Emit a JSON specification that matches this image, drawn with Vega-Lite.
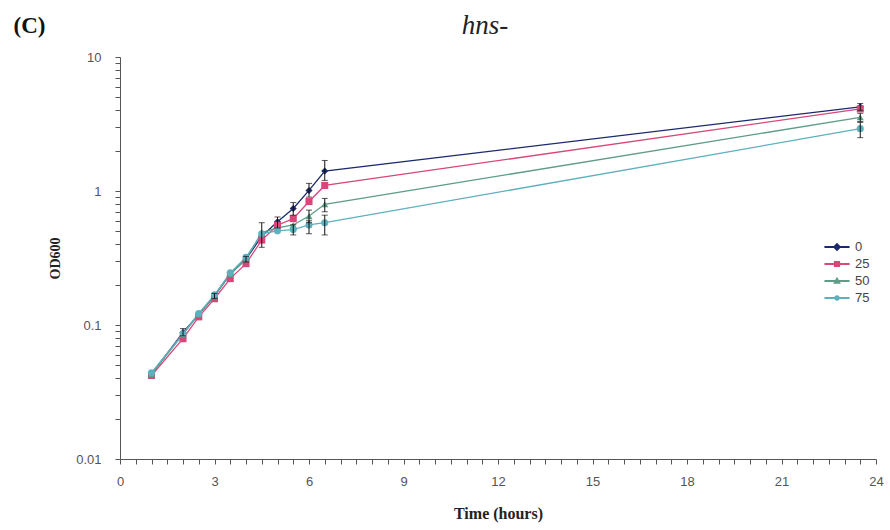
{
  "$schema": "https://vega.github.io/schema/vega-lite/v6.json",
  "width": 756,
  "height": 402,
  "autosize": {"type": "none"},
  "padding": {"left": 120, "top": 57, "right": 14, "bottom": 71},
  "background": "white",
  "config": {
    "view": {"stroke": null},
    "axis": {"grid": false, "domainColor": "#555", "tickColor": "#555", "labelColor": "#555", "labelFont": "Liberation Sans", "labelFontSize": 13, "titleFont": "Liberation Serif", "titleFontWeight": "bold", "titleColor": "#222"}
  },
  "title": {"text": "hns-", "font": "Liberation Serif", "fontStyle": "italic", "fontWeight": "normal", "fontSize": 27, "color": "#222", "anchor": "middle", "frame": "group", "dx": -13, "baseline": "alphabetic", "offset": 23, "dy": 70},
  "datasets": {
    "main": [
      {"series": "0", "time": 1, "od": 0.043}, {"series": "0", "time": 2, "od": 0.088}, {"series": "0", "time": 2.5, "od": 0.12}, {"series": "0", "time": 3, "od": 0.165}, {"series": "0", "time": 3.5, "od": 0.24}, {"series": "0", "time": 4, "od": 0.31}, {"series": "0", "time": 4.5, "od": 0.46}, {"series": "0", "time": 5, "od": 0.59}, {"series": "0", "time": 5.5, "od": 0.74}, {"series": "0", "time": 6, "od": 1.01}, {"series": "0", "time": 6.5, "od": 1.41}, {"series": "0", "time": 23.5, "od": 4.25},
      {"series": "25", "time": 1, "od": 0.042}, {"series": "25", "time": 2, "od": 0.079}, {"series": "25", "time": 2.5, "od": 0.115}, {"series": "25", "time": 3, "od": 0.157}, {"series": "25", "time": 3.5, "od": 0.222}, {"series": "25", "time": 4, "od": 0.287}, {"series": "25", "time": 4.5, "od": 0.43}, {"series": "25", "time": 5, "od": 0.555}, {"series": "25", "time": 5.5, "od": 0.622}, {"series": "25", "time": 6, "od": 0.834}, {"series": "25", "time": 6.5, "od": 1.1}, {"series": "25", "time": 23.5, "od": 4.1},
      {"series": "50", "time": 1, "od": 0.043}, {"series": "50", "time": 2, "od": 0.085}, {"series": "50", "time": 2.5, "od": 0.12}, {"series": "50", "time": 3, "od": 0.165}, {"series": "50", "time": 3.5, "od": 0.24}, {"series": "50", "time": 4, "od": 0.31}, {"series": "50", "time": 4.5, "od": 0.49}, {"series": "50", "time": 5, "od": 0.53}, {"series": "50", "time": 5.5, "od": 0.558}, {"series": "50", "time": 6, "od": 0.65}, {"series": "50", "time": 6.5, "od": 0.796}, {"series": "50", "time": 23.5, "od": 3.55},
      {"series": "75", "time": 1, "od": 0.044}, {"series": "75", "time": 2, "od": 0.086}, {"series": "75", "time": 2.5, "od": 0.122}, {"series": "75", "time": 3, "od": 0.168}, {"series": "75", "time": 3.5, "od": 0.245}, {"series": "75", "time": 4, "od": 0.32}, {"series": "75", "time": 4.5, "od": 0.48}, {"series": "75", "time": 5, "od": 0.504}, {"series": "75", "time": 5.5, "od": 0.515}, {"series": "75", "time": 6, "od": 0.558}, {"series": "75", "time": 6.5, "od": 0.58}, {"series": "75", "time": 23.5, "od": 2.92}
    ],
    "err": [
      {"series": "0", "time": 2, "lo": 0.083, "hi": 0.094},
      {"series": "0", "time": 3, "lo": 0.158, "hi": 0.172},
      {"series": "0", "time": 4, "lo": 0.295, "hi": 0.325},
      {"series": "50", "time": 4.5, "lo": 0.38, "hi": 0.58},
      {"series": "0", "time": 5, "lo": 0.53, "hi": 0.64},
      {"series": "0", "time": 5.5, "lo": 0.66, "hi": 0.82},
      {"series": "75", "time": 5.5, "lo": 0.47, "hi": 0.56},
      {"series": "0", "time": 6, "lo": 0.9, "hi": 1.14},
      {"series": "50", "time": 6, "lo": 0.58, "hi": 0.72},
      {"series": "75", "time": 6, "lo": 0.48, "hi": 0.6},
      {"series": "0", "time": 6.5, "lo": 1.2, "hi": 1.69},
      {"series": "50", "time": 6.5, "lo": 0.7, "hi": 0.88},
      {"series": "75", "time": 6.5, "lo": 0.47, "hi": 0.66},
      {"series": "0", "time": 23.5, "lo": 4.0, "hi": 4.5},
      {"series": "50", "time": 23.5, "lo": 3.3, "hi": 3.8},
      {"series": "75", "time": 23.5, "lo": 2.5, "hi": 3.25}
    ]
  },
  "layer": [
    {
      "data": {"name": "main"},
      "mark": {"type": "line", "strokeWidth": 1.3},
      "encoding": {
        "x": {"field": "time", "type": "quantitative", "scale": {"domain": [0, 24], "nice": false},
          "axis": {"orient": "bottom", "values": [0,0.5,1,1.5,2,2.5,3,3.5,4,4.5,5,5.5,6,6.5,7,7.5,8,8.5,9,9.5,10,10.5,11,11.5,12,12.5,13,13.5,14,14.5,15,15.5,16,16.5,17,17.5,18,18.5,19,19.5,20,20.5,21,21.5,22,22.5,23,23.5,24],
            "format": "~g", "labelExpr": "datum.value % 3 === 0 ? datum.label : ''", "labelOverlap": false, "labelFlush": false, "tickSize": 5, "labelPadding": 11, "title": "Time (hours)", "titleFontSize": 16, "titlePadding": 17}},
        "y": {"field": "od", "type": "quantitative", "scale": {"type": "log", "domain": [0.01, 10], "nice": false},
          "axis": {"values": [0.01,0.02,0.03,0.04,0.05,0.06,0.07,0.08,0.09,0.1,0.2,0.3,0.4,0.5,0.6,0.7,0.8,0.9,1,2,3,4,5,6,7,8,9,10],
            "format": "~g", "labelExpr": "abs(log(datum.value)/LN10 - round(log(datum.value)/LN10)) < 0.000001 ? datum.label : ''", "labelOverlap": false, "labelFlush": false, "tickSize": 5, "labelPadding": 14, "title": "OD600", "titleFontSize": 14, "titlePadding": 13}},
        "color": {"field": "series", "type": "nominal", "scale": {"domain": ["0","25","50","75"], "range": ["#1a2a6c","#d9477a","#5e9c86","#5fafbf"]}, "legend": null}
      }
    },
    {
      "data": {"name": "main"},
      "mark": {"type": "point", "filled": true, "opacity": 1, "size": 50},
      "encoding": {
        "x": {"field": "time", "type": "quantitative", "axis": null},
        "y": {"field": "od", "type": "quantitative", "axis": null},
        "color": {"field": "series", "type": "nominal", "scale": {"domain": ["0","25","50","75"], "range": ["#1a2a6c","#d9477a","#5e9c86","#5fafbf"]}, "legend": null},
        "shape": {"field": "series", "type": "nominal", "scale": {"domain": ["0","25","50","75"], "range": ["diamond","square","triangle-up","circle"]}, "legend": null}
      }
    },
    {
      "data": {"name": "err"},
      "mark": {"type": "errorbar", "color": "#111", "ticks": {"size": 6, "color": "#111"}, "rule": {"strokeWidth": 1}},
      "encoding": {
        "x": {"field": "time", "type": "quantitative", "axis": null},
        "y": {"field": "lo", "type": "quantitative", "axis": null},
        "y2": {"field": "hi"}
      }
    },
    {
      "data": {"name": "main"},
      "transform": [{"filter": "datum.od < 0"}],
      "mark": {"type": "point", "filled": false, "strokeWidth": 2, "opacity": 1},
      "encoding": {
        "x": {"field": "time", "type": "quantitative", "axis": {"orient": "top", "labels": false, "ticks": false, "domain": false, "title": "(C)", "titleFont": "Liberation Serif", "titleFontSize": 23, "titleFontWeight": "bold", "titleColor": "#111", "titleAngle": 0, "titleAlign": "left", "titleBaseline": "alphabetic", "titleX": -107, "titleY": -25}},
        "color": {"field": "series", "type": "nominal", "scale": {"domain": ["0","25","50","75"], "range": ["#1a2a6c","#d9477a","#5e9c86","#5fafbf"]},
          "legend": {"orient": "none", "legendX": 707, "legendY": 180, "title": null, "symbolSize": 300, "symbolStrokeWidth": 2, "labelFont": "Liberation Sans", "labelFontSize": 13, "labelColor": "#444", "labelOffset": 8, "rowPadding": 0}},
        "shape": {"field": "series", "type": "nominal", "scale": {"domain": ["0","25","50","75"], "range": ["M-1.45,0H1.45M0,-0.32L0.32,0L0,0.32L-0.32,0Z", "M-1.45,0H1.45M-0.245,-0.245H0.245V0.245H-0.245Z", "M-1.45,0H1.45M0,-0.25L0.25,0.19H-0.25Z", "M-1.45,0H1.45M-0.19,0A0.19,0.19 0 1,0 0.19,0A0.19,0.19 0 1,0 -0.19,0Z"]},
          "legend": {"orient": "none", "legendX": 707, "legendY": 180, "title": null, "symbolSize": 300, "symbolStrokeWidth": 2, "labelFont": "Liberation Sans", "labelFontSize": 13, "labelColor": "#444", "labelOffset": 8, "rowPadding": 0}}
      }
    }
  ],
  "resolve": {"scale": {"color": "independent", "shape": "independent"}, "axis": {"x": "independent", "y": "independent"}}
}
